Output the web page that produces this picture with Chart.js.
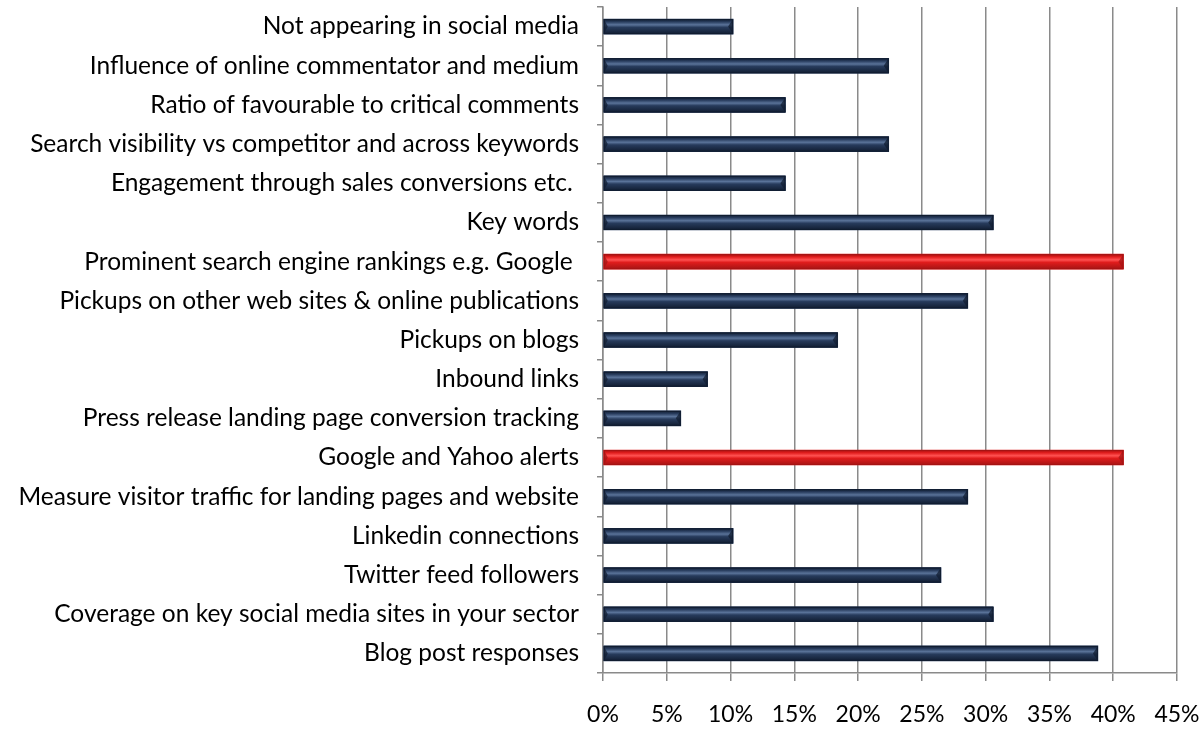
<!DOCTYPE html>
<html>
<head>
<meta charset="utf-8">
<script src="https://cdn.jsdelivr.net/npm/chart.js@4/dist/chart.umd.min.js"></script>
<style>
  html, body { margin: 0; padding: 0; background: #fff; }
  #wrap { width: 1204px; height: 731px; }
</style>
</head>
<body>
<div id="wrap"><canvas id="chart"></canvas></div>
<script>
// categories, top to bottom
const labels = [
  'Not appearing in social media',
  'Influence of online commentator and medium',
  'Ratio of favourable to critical comments',
  'Search visibility vs competitor and across keywords',
  'Engagement through sales conversions etc. ',
  'Key words',
  'Prominent search engine rankings e.g. Google ',
  'Pickups on other web sites & online publications',
  'Pickups on blogs',
  'Inbound links',
  'Press release landing page conversion tracking',
  'Google and Yahoo alerts',
  'Measure visitor traffic for landing pages and website',
  'Linkedin connections',
  'Twitter feed followers',
  'Coverage on key social media sites in your sector',
  'Blog post responses'
];

// share of respondents (%)
const values = [10.2, 22.4, 14.3, 22.4, 14.3, 30.6, 40.8, 28.6, 18.4, 8.2, 6.1, 40.8, 28.6, 10.2, 26.5, 30.6, 38.8];

// the two top answers are shown in red
const highlighted = [6, 11];

const xTicks = [0, 5, 10, 15, 20, 25, 30, 35, 40, 45];

const NAVY = { edge: '#111d31', body: '#273b5c', light: '#5a7399' };
const RED = { edge: '#a51414', body: '#e01c1c', light: '#ff5252' };

function paletteFor(i) {
  return highlighted.includes(i) ? RED : NAVY;
}

// shaded tube look for the bars
const tubeBars = {
  id: 'tubeBars',
  afterDatasetsDraw(chart) {
    const ctx = chart.ctx;
    const meta = chart.getDatasetMeta(0);
    meta.data.forEach((bar, i) => {
      const p = paletteFor(i);
      const h = bar.height;
      const top = bar.y - h / 2;
      const left = Math.min(bar.base, bar.x);
      const w = Math.abs(bar.x - bar.base);
      const g = ctx.createLinearGradient(0, top, 0, top + h);
      g.addColorStop(0, p.edge);
      g.addColorStop(0.18, p.body);
      g.addColorStop(0.38, p.light);
      g.addColorStop(0.55, p.body);
      g.addColorStop(1, p.edge);
      ctx.save();
      ctx.fillStyle = g;
      ctx.fillRect(left, top, w, h);
      // bevelled end caps
      ctx.fillStyle = p.edge;
      ctx.globalAlpha = 0.75;
      ctx.beginPath();
      ctx.moveTo(left + w, top);
      ctx.lineTo(left + w - 5, bar.y);
      ctx.lineTo(left + w, top + h);
      ctx.closePath();
      ctx.fill();
      ctx.beginPath();
      ctx.moveTo(left, top);
      ctx.lineTo(left + 4, bar.y);
      ctx.lineTo(left, top + h);
      ctx.closePath();
      ctx.fill();
      ctx.globalAlpha = 1;
      ctx.strokeStyle = p.edge;
      ctx.lineWidth = 1;
      ctx.strokeRect(left + 0.5, top + 0.5, w - 1, h - 1);
      ctx.restore();
    });
  }
};

new Chart(document.getElementById('chart'), {
  type: 'bar',
  data: {
    labels: labels,
    datasets: [{
      data: values,
      backgroundColor: values.map((v, i) => paletteFor(i).body),
      borderWidth: 0,
      barThickness: 15
    }]
  },
  options: {
    indexAxis: 'y',
    responsive: true,
    maintainAspectRatio: false,
    animation: false,
    layout: { padding: { top: 7, right: 27, bottom: 0, left: 0 } },
    plugins: {
      legend: { display: false },
      tooltip: { enabled: false }
    },
    scales: {
      x: {
        min: 0,
        max: 45,
        afterBuildTicks: scale => { scale.ticks = xTicks.map(v => ({ value: v })); },
        afterFit: scale => {
          scale.height = 58;
          scale.paddingLeft = 0;
          scale.paddingRight = 0;
        },
        ticks: {
          color: '#000',
          padding: 20,
          font: { family: 'Lato', size: 23 },
          callback: v => v + '%'
        },
        grid: {
          color: '#8a8a8a',
          lineWidth: 1.5,
          tickLength: 8,
          drawTicks: true
        },
        border: { color: '#8a8a8a', width: 1.5 }
      },
      y: {
        afterFit: scale => {
          scale.width = 603;
          scale.paddingTop = 0;
          scale.paddingBottom = 0;
        },
        ticks: {
          color: '#000',
          padding: 18,
          autoSkip: false,
          font: { family: 'Lato', size: 24.5 }
        },
        grid: {
          offset: true,
          drawOnChartArea: false,
          tickLength: 6,
          color: '#8a8a8a',
          lineWidth: 1.5
        },
        border: { color: '#8a8a8a', width: 1.5 }
      }
    }
  },
  plugins: [tubeBars]
});
</script>
</body>
</html>
